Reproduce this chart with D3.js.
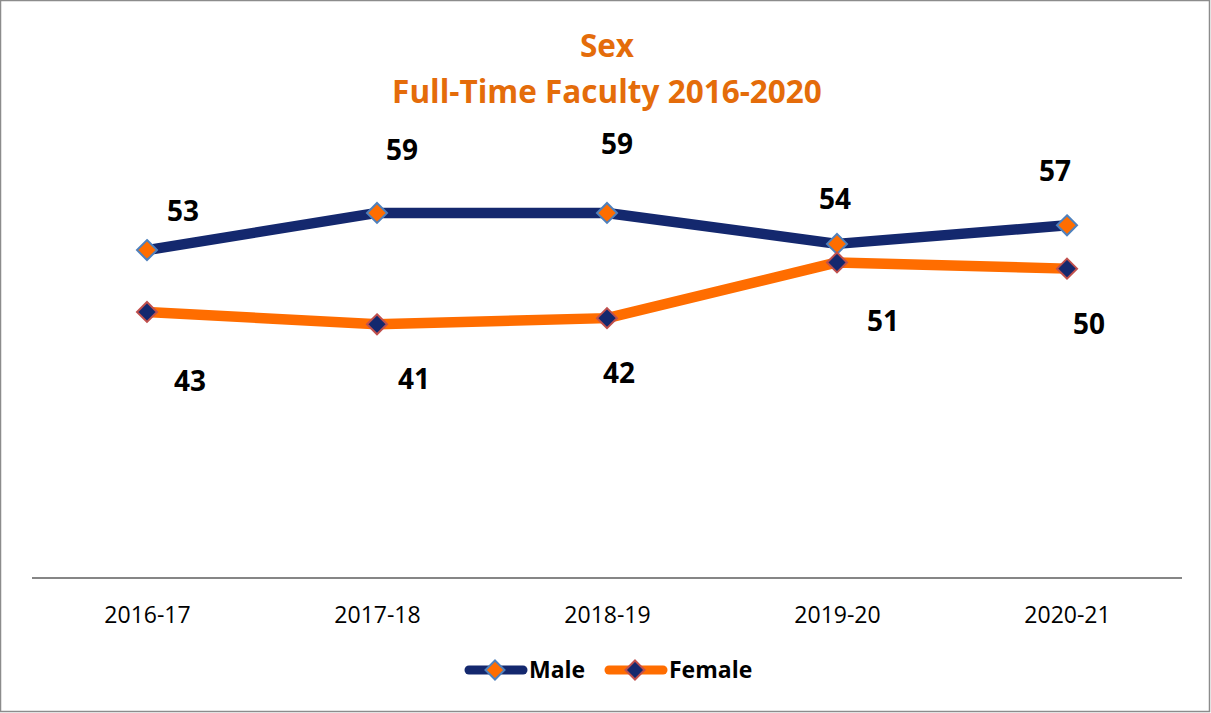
<!DOCTYPE html>
<html><head><meta charset="utf-8">
<script src="https://cdn.jsdelivr.net/npm/d3@7"></script>
<style>body{margin:0;background:#fff}svg{display:block}</style>
</head><body>
<script>
const categories = ["2016-17","2017-18","2018-19","2019-20","2020-21"];
const maleValues = [53,59,59,54,57];
const femaleValues = [43,41,42,51,50];
const titleLines = ["Sex","Full-Time Faculty 2016-2020"];
const seriesNames = ["Male","Female"];
// label offsets (dx, dy) relative to marker, styling only
const maleLabelOffsets = [[36,-29],[25,-53],[10,-59],[-2,-35],[-12,-44]];
const femaleLabelOffsets = [[43,79],[37,65],[12,65],[46,69],[22,65]];

const W=1211,H=713;
const svg=d3.select("body").append("svg").attr("width",W).attr("height",H);
svg.append("rect").attr("x",0.5).attr("y",0.5).attr("width",W-2).attr("height",H-2)
  .attr("fill","#fff").attr("stroke","#8c8c8c").attr("stroke-width",1.5);

const x=d3.scalePoint().domain(categories).range([32,1182]).padding(0.5);
const y=d3.scaleLinear().domain([0,80]).range([578,83]);

const font="'Open Sans', sans-serif";
svg.append("g").selectAll("text").data(titleLines).join("text")
  .attr("x",607).attr("y",(d,i)=>57+i*46).attr("text-anchor","middle")
  .attr("font-family",font).attr("font-weight","bold").attr("font-size",31.5)
  .attr("fill","#E46C0A").text(d=>d);

// axis
const ax=svg.append("g").attr("transform","translate(0,578)")
  .call(d3.axisBottom(x).tickSize(0).tickPadding(29));
ax.select(".domain").attr("stroke","#868686").attr("stroke-width",2).attr("d","M32,0H1182");
ax.selectAll("text").attr("font-family",font).attr("font-size",23).attr("fill","#000");

const series=[
 {name:seriesNames[0],values:maleValues,line:"#14286E",mfill:"#FF6D00",mstroke:"#4F81BD",offs:maleLabelOffsets},
 {name:seriesNames[1],values:femaleValues,line:"#FF6D00",mfill:"#14286E",mstroke:"#C0504D",offs:femaleLabelOffsets}
];
const lineGen=d3.line().x((d,i)=>x(categories[i])).y(d=>y(d));
function diamondPath(s){ return `M0,${-s}L${s},0L0,${s}L${-s},0Z`; }
series.forEach(s=>{
  svg.append("path").attr("d",lineGen(s.values)).attr("fill","none")
    .attr("stroke",s.line).attr("stroke-width",10.5).attr("stroke-linejoin","round");
});
series.forEach(s=>{
  svg.append("g").selectAll("path").data(s.values).join("path")
    .attr("transform",(d,i)=>`translate(${x(categories[i])},${y(d)})`)
    .attr("d",diamondPath(10)).attr("fill",s.mfill).attr("stroke",s.mstroke).attr("stroke-width",2);
  svg.append("g").selectAll("text").data(s.values).join("text")
    .attr("x",(d,i)=>x(categories[i])+s.offs[i][0]).attr("y",(d,i)=>y(d)+s.offs[i][1])
    .attr("text-anchor","middle").attr("font-family",font).attr("font-weight","bold")
    .attr("font-size",28).attr("fill","#000").text(d=>d);
});

// legend
const lg=svg.append("g");
const legendX=[465,605];
series.forEach((s,i)=>{
  const g=lg.append("g").attr("transform",`translate(${legendX[i]},670)`);
  g.append("line").attr("x1",4).attr("x2",58).attr("stroke",s.line).attr("stroke-width",9).attr("stroke-linecap","round");
  g.append("path").attr("transform","translate(30,0)").attr("d",diamondPath(9.5))
    .attr("fill",s.mfill).attr("stroke",s.mstroke).attr("stroke-width",2);
  g.append("text").attr("x",64).attr("y",8).attr("font-family",font).attr("font-weight","bold")
    .attr("font-size",23).attr("fill","#000").text(s.name);
});
</script>
</body></html>
